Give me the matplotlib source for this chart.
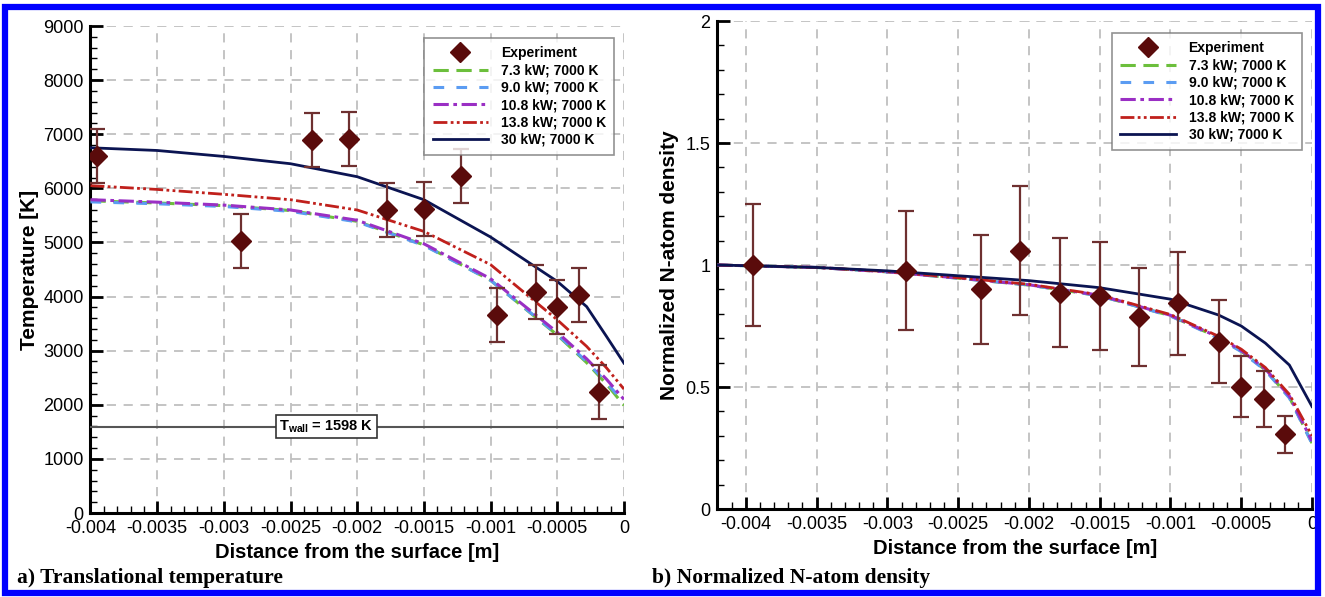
import numpy as np

import matplotlib
matplotlib.use("Agg")
import matplotlib.pyplot as plt
from matplotlib.patches import Rectangle
from matplotlib.ticker import MultipleLocator, AutoMinorLocator


# -----------------------------------------------------------------------------
# Data
# -----------------------------------------------------------------------------

# experiment, panel a)
exp_x = [-0.00395, -0.00287, -0.00234, -0.00206, -0.00178, -0.00150,
         -0.00122, -0.00095, -0.00066, -0.00050, -0.00034, -0.00019]
exp_T = [6600, 5030, 6895, 6920, 5600, 5620, 6225, 3660, 4090, 3800, 4025, 2230]
exp_T_err = [500, 500, 500, 500, 500, 500, 500, 500, 500, 500, 500, 500]

# experiment, panel b)
exp_n = [1.00, 0.977, 0.900, 1.059, 0.887, 0.873, 0.788, 0.843, 0.686, 0.501, 0.451, 0.306]
exp_n_err = [0.25, 0.245, 0.225, 0.265, 0.222, 0.22, 0.20, 0.21, 0.17, 0.125, 0.113, 0.075]

# model curves, panel a)
xa = [-0.004, -0.0035, -0.003, -0.0025, -0.002, -0.0015, -0.001, -0.0005,
      -0.00028, -0.00013, 0.0]
T_73 = [5770, 5730, 5680, 5590, 5390, 4955, 4300, 3290, 2780, 2380, 1990]
T_90 = [5750, 5715, 5665, 5575, 5380, 4945, 4300, 3300, 2800, 2410, 2040]
T_108 = [5790, 5745, 5690, 5600, 5410, 4975, 4330, 3340, 2850, 2470, 2100]
T_138 = [6050, 5980, 5890, 5790, 5600, 5204, 4590, 3570, 3080, 2680, 2290]
T_30 = [6750, 6700, 6590, 6455, 6215, 5790, 5100, 4280, 3815, 3260, 2770]

# model curves, panel b)
xb = [-0.0042, -0.0035, -0.003, -0.0025, -0.002, -0.0015, -0.001, -0.00066,
      -0.0005, -0.00033, -0.00016, 0.0]
n_73 = [1.0, 0.99, 0.972, 0.946, 0.918, 0.874, 0.792, 0.702, 0.647, 0.570, 0.458, 0.270]
n_90 = [1.0, 0.99, 0.972, 0.946, 0.918, 0.874, 0.791, 0.700, 0.645, 0.568, 0.455, 0.268]
n_108 = [1.0, 0.99, 0.972, 0.947, 0.919, 0.876, 0.794, 0.704, 0.650, 0.574, 0.463, 0.278]
n_138 = [1.0, 0.99, 0.973, 0.948, 0.921, 0.878, 0.797, 0.708, 0.655, 0.580, 0.470, 0.300]
n_30 = [1.0, 0.99, 0.976, 0.956, 0.936, 0.907, 0.860, 0.795, 0.750, 0.680, 0.590, 0.420]

labels = ["7.3 kW; 7000 K", "9.0 kW; 7000 K", "10.8 kW; 7000 K",
          "13.8 kW; 7000 K", "30 kW; 7000 K"]

x_ticklabels = ["-0.004", "-0.0035", "-0.003", "-0.0025", "-0.002",
                "-0.0015", "-0.001", "-0.0005", "0"]

T_wall = 1598


# -----------------------------------------------------------------------------
# Style
# -----------------------------------------------------------------------------

plt.rcParams["font.family"] = ["Liberation Sans", "DejaVu Sans"]
plt.rcParams["mathtext.fontset"] = "custom"
plt.rcParams["mathtext.rm"] = "Liberation Sans:bold"
plt.rcParams["mathtext.bf"] = "Liberation Sans:bold"

styles = [
    dict(color="#6cbf3c", ls=(0, (5, 2.5)), lw=2.2),
    dict(color="#5b9cf2", ls=(0, (3.5, 4)), lw=2.2),
    dict(color="#9a2fc4", ls=(0, (5, 1.5, 1.2, 1.5)), lw=2.2),
    dict(color="#c0201c", ls=(0, (5, 1.2, 1, 1.2, 1, 1.2)), lw=2.0),
    dict(color="#0b1452", ls="-", lw=2.0),
]

exp_color = "#5a0b0b"
err_color = "#6e3030"


def setup_axes(ax, ymax, ymajor, xmin):
    ax.set_xlim(xmin, 0)
    ax.set_ylim(0, ymax)
    ax.set_xticks(np.arange(-0.004, 0.00001, 0.0005))
    ax.set_xticklabels(x_ticklabels)
    ax.xaxis.set_minor_locator(AutoMinorLocator(5))
    ax.yaxis.set_major_locator(MultipleLocator(ymajor))
    ax.yaxis.set_minor_locator(AutoMinorLocator(5))
    ax.spines["top"].set_visible(False)
    ax.spines["right"].set_visible(False)
    ax.spines["left"].set_linewidth(2.2)
    ax.spines["bottom"].set_linewidth(2.2)
    ax.tick_params(which="major", direction="in", length=9, width=2, labelsize=13, pad=5)
    ax.tick_params(which="minor", direction="in", length=5, width=1)
    ax.grid(True, which="major", color="#b4b4b4", ls=(0, (6, 5)), lw=1.1)
    ax.set_xlabel("Distance from the surface [m]", fontsize=14.5, fontweight="bold", labelpad=4)


def add_legend(ax):
    leg = ax.legend(loc="upper right", bbox_to_anchor=(0.995, 0.99),
                    frameon=True, fancybox=False, edgecolor="#777777",
                    handlelength=4.0, handletextpad=0.9, labelspacing=0.24,
                    borderpad=0.6, prop={"weight": "bold", "size": 10})
    leg.get_frame().set_linewidth(1.2)
    leg.set_zorder(20)


# -----------------------------------------------------------------------------
# Figure
# -----------------------------------------------------------------------------

fig = plt.figure(figsize=(13.25, 5.97), dpi=100)
fig.patch.set_facecolor("white")

ax1 = fig.add_axes([0.0683, 0.1407, 0.4026, 0.8157])
ax2 = fig.add_axes([0.5415, 0.1474, 0.4487, 0.8174])

# panel a)
setup_axes(ax1, 9000, 1000, -0.004)
ax1.axhline(T_wall, color="#555555", lw=1.5, zorder=3)
ax1.text(-0.00223, T_wall, r"$\mathrm{T_{wall}}$ = 1598 K", fontsize=10.5, fontweight="bold",
         ha="center", va="center", zorder=6,
         bbox=dict(boxstyle="square,pad=0.2", fc="white", ec="#333333", lw=1.2))

ax1.errorbar(exp_x, exp_T, yerr=exp_T_err, fmt="none", ecolor=err_color,
             elinewidth=1.6, capsize=6, capthick=1.6, zorder=4)
ax1.plot(exp_x, exp_T, ls="none", marker="D", ms=10.5, color=exp_color,
         zorder=5, label="Experiment")
for yv, lab, st in zip([T_73, T_90, T_108, T_138, T_30], labels, styles):
    ax1.plot(xa, yv, label=lab, zorder=3, **st)
ax1.set_ylabel("Temperature [K]", fontsize=15, fontweight="bold", labelpad=3)
add_legend(ax1)

# panel b)
setup_axes(ax2, 2, 0.5, -0.0042)
ax2.set_yticks([0, 0.5, 1, 1.5, 2])
ax2.set_yticklabels(["0", "0.5", "1", "1.5", "2"])
ax2.errorbar(exp_x, exp_n, yerr=exp_n_err, fmt="none", ecolor=err_color,
             elinewidth=1.6, capsize=6, capthick=1.6, zorder=4)
ax2.plot(exp_x, exp_n, ls="none", marker="D", ms=10.5, color=exp_color,
         zorder=5, label="Experiment")
for yv, lab, st in zip([n_73, n_90, n_108, n_138, n_30], labels, styles):
    ax2.plot(xb, yv, label=lab, zorder=3, **st)
ax2.set_ylabel("Normalized N-atom density", fontsize=15, fontweight="bold", labelpad=5)
add_legend(ax2)

# captions
fig.text(17 / 1325, 1 - 578 / 597, "a) Translational temperature", family="Liberation Serif",
         fontsize=15.5, fontweight="bold", va="center", ha="left")
fig.text(652 / 1325, 1 - 578 / 597, "b) Normalized N-atom density", family="Liberation Serif",
         fontsize=15.5, fontweight="bold", va="center", ha="left")

# blue frame
fig.patches.append(Rectangle((4.5 / 1325, 4.5 / 597), 1 - 12 / 1325, 1 - 11 / 597,
                             transform=fig.transFigure, fill=False, ec="#0000ff", lw=4.5))

fig.savefig("out.png", dpi=100)
